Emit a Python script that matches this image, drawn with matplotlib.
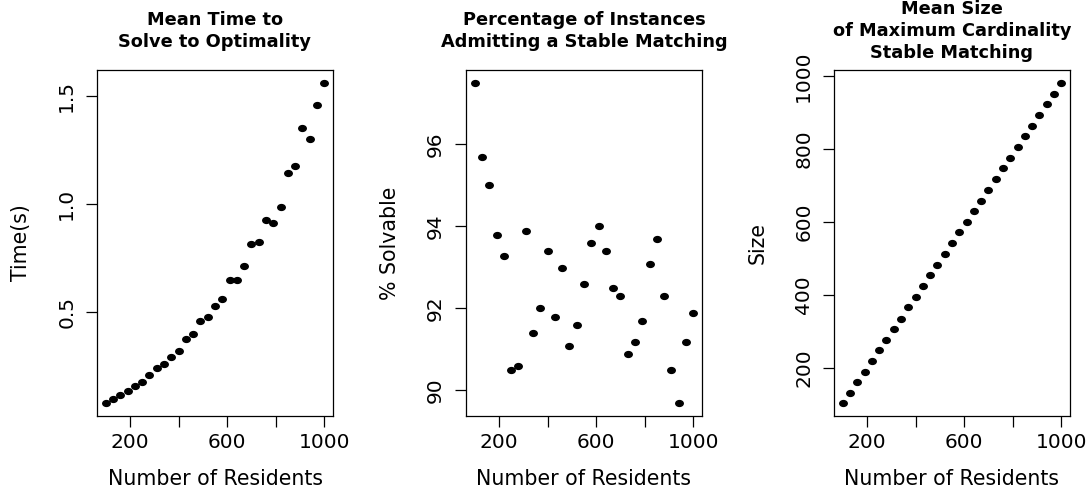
import numpy as np
import matplotlib
matplotlib.use('Agg')
import matplotlib.pyplot as plt
from matplotlib.path import Path
from matplotlib.transforms import Affine2D

plt.rcParams['font.family'] = ['DejaVu Sans']

# number of residents (x for every panel)
residents = list(range(100, 1001, 30))

# mean time to solve (s)
mean_time = [0.077, 0.097, 0.113, 0.134, 0.156, 0.174, 0.208, 0.239, 0.257,
             0.291, 0.318, 0.376, 0.395, 0.459, 0.477, 0.525, 0.558, 0.646,
             0.646, 0.711, 0.814, 0.823, 0.926, 0.911, 0.985, 1.142, 1.174,
             1.351, 1.297, 1.455, 1.559]

# % of instances admitting a stable matching
pct_solvable = [97.50, 95.70, 95.00, 93.80, 93.29, 90.49, 90.59, 93.89, 91.39,
                92.00, 93.39, 91.79, 92.99, 91.09, 91.59, 92.60, 93.59, 94.00,
                93.39, 92.49, 92.30, 90.89, 91.19, 91.69, 93.09, 93.69, 92.30,
                90.49, 89.69, 91.19, 91.89]

# mean size of max cardinality stable matching
mean_size = [103, 131, 160, 189, 219, 248, 277, 306, 335, 366, 395, 424, 453,
             482, 511, 542, 571, 600, 629, 658, 688, 717, 747, 776, 805, 834,
             864, 893, 922, 951, 981]

titles = ['Mean Time to\nSolve to Optimality',
          'Percentage of Instances\nAdmitting a Stable Matching',
          'Mean Size\nof Maximum Cardinality\nStable Matching']
ylabels = ['Time(s)', '% Solvable', 'Size']
yticks = [[0.5, 1.0, 1.5], [90, 92, 94, 96], [200, 400, 600, 800, 1000]]
yticklabels = [['0.5', '1.0', '1.5'], ['90', '92', '94', '96'],
               ['200', '400', '600', '800', '1000']]
xticks = [200, 400, 600, 800, 1000]
xticklabels = ['200', '', '600', '', '1000']

# the original picture is a bit wider than tall, so dots are slightly oval
dot = Path.unit_circle().transformed(Affine2D().scale(1.28, 1.0))

W, H = 1090, 493
fig = plt.figure(figsize=(W / 100, H / 100), dpi=100)

lefts = [97, 466, 834]
ax_w, top, bottom = 236, 70, 416
series = [mean_time, pct_solvable, mean_size]

for i in range(3):
    ax = fig.add_axes([lefts[i] / W, (H - bottom) / H, ax_w / W, (bottom - top) / H])
    ax.plot(residents, series[i], linestyle='none', marker=dot, color='black', ms=5.4)
    ax.margins(x=0.04, y=0.04)
    ax.set_xticks(xticks)
    ax.set_xticklabels(xticklabels)
    ax.set_yticks(yticks[i])
    ax.set_yticklabels(yticklabels[i], rotation=90, va='center')
    ax.tick_params(direction='out', length=8, width=0.9, labelsize=14.5, colors='black')
    ax.tick_params(axis='x', pad=4)
    ax.tick_params(axis='y', pad=7)
    for s in ax.spines.values():
        s.set_linewidth(0.9)
    ax.set_xlabel('Number of Residents', fontsize=14.8, va='center')
    ax.xaxis.set_label_coords(0.5, -63 / (bottom - top))
    ax.set_ylabel(ylabels[i], fontsize=14.8, va='center')
    ax.yaxis.set_label_coords(-76 / ax_w, 0.5)
    fig.text((lefts[i] + ax_w / 2) / W, 1 - 31 / H, titles[i], ha='center', va='center',
             fontsize=12.8, fontweight='bold', linespacing=1.3)

fig.savefig('out.png', dpi=100)
